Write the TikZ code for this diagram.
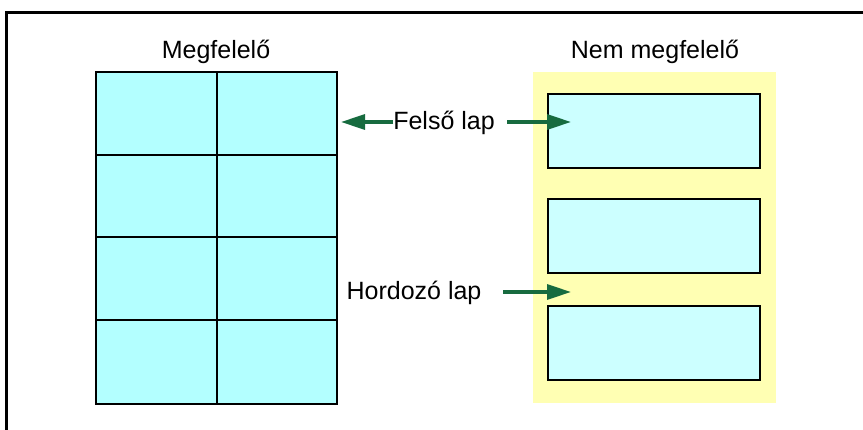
\documentclass[tikz,border=0pt]{standalone}
\usepackage{fontspec}
\setmainfont{Liberation Sans}
\usetikzlibrary{arrows.meta}
\definecolor{gridfill}{HTML}{B3FFFF}
\definecolor{boxfill}{HTML}{CCFFFF}
\definecolor{sheet}{HTML}{FFFFB3}
\definecolor{arrowgreen}{HTML}{176B3F}
\begin{document}
\begin{tikzpicture}[x=1pt,y=-1pt,
  lbl/.style={font=\fontsize{25}{29}\selectfont, inner sep=0pt, anchor=base},
  cell/.style={draw=black, line width=2.8pt, fill=gridfill},
  label/.style={draw=black, line width=2.8pt, fill=boxfill},
  pointer/.style={draw=arrowgreen, line width=3.2pt, -{Triangle[length=24pt,width=15pt]}}]
\useasboundingbox (0,0) rectangle (863,430);
% frame
\draw[line width=3pt] (863,13) -- (6,13) -- (6,430);
% titles
\node[lbl] (t1) at (216,59) {Megfelelő};
\node[lbl] (t2) at (655,59) {Nem megfelelő};
% left grid
\foreach \r/\ya/\yb in {1/72/155, 2/155/237, 3/237/320, 4/320/404}{
  \draw[cell] (96,\ya) rectangle (217,\yb);
  \draw[cell] (217,\ya) rectangle (337,\yb);
}
% right sheet
\fill[sheet] (533,72) rectangle (776,403);
\draw[label] (548,94) rectangle (760,168);
\draw[label] (548,199) rectangle (760,273);
\draw[label] (548,306) rectangle (760,380);
% labels
\node[lbl] (top) at (444,130) {Felső lap};
\node[lbl] (carrier) at (414,300) {Hordozó lap};
\coordinate (gridedge) at (341,122);
\coordinate (boxtarget) at (571,122);
\coordinate (sheettarget) at (571,292);
\draw[pointer] (393,122) -- (gridedge);
\draw[pointer] (507,122) -- (boxtarget);
\draw[pointer] (503,292) -- (sheettarget);
\end{tikzpicture}
\end{document}
